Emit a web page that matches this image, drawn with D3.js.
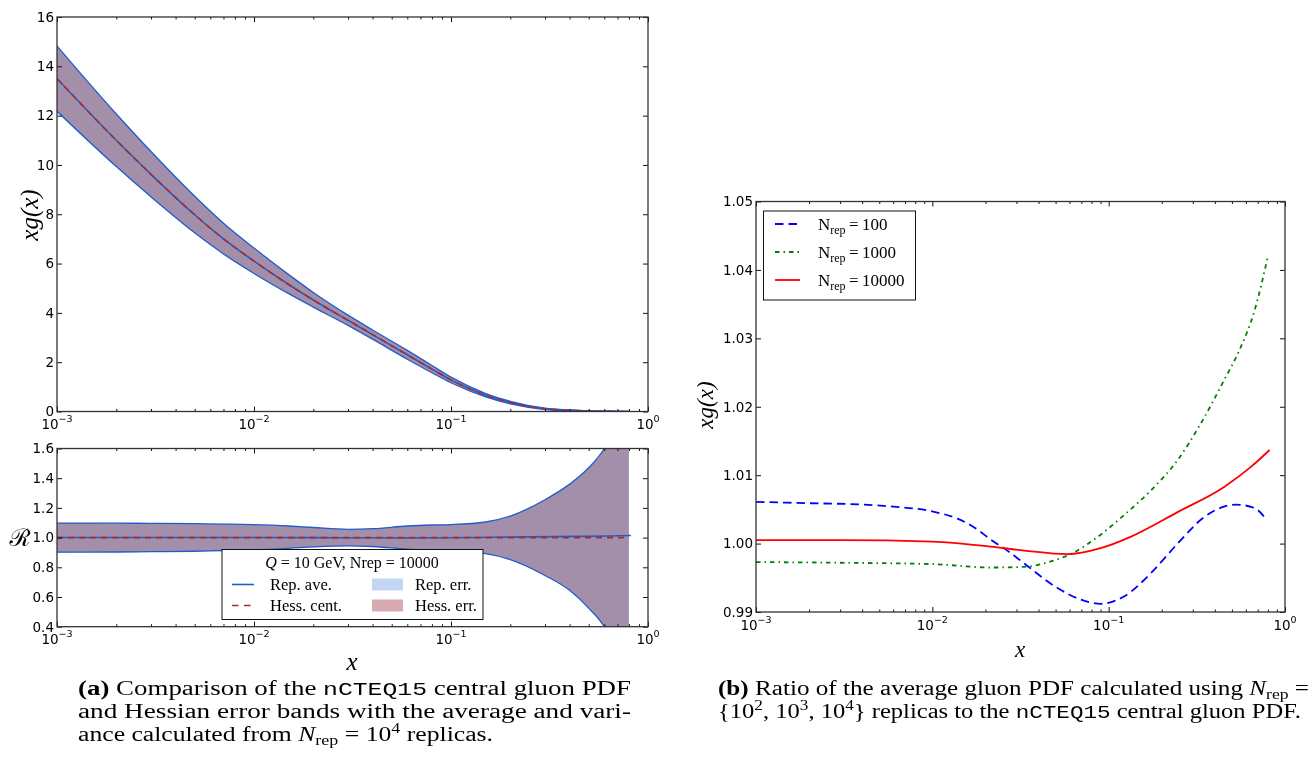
<!DOCTYPE html>
<html>
<head>
<meta charset="utf-8">
<script src="https://cdn.jsdelivr.net/npm/d3@7/dist/d3.min.js"></script>
<style>
html,body{margin:0;padding:0;background:#fff;}
svg{display:block;}
text{white-space:pre;}
</style>
</head>
<body>
<svg id="chart" width="1316" height="760"></svg>
<script>
// ---------------- data ----------------
// (a) gluon PDF xg(x) at Q = 10 GeV
const xGrid = [0.001,0.002,0.003,0.005,0.007,0.01,0.015,0.02,0.03,0.04,0.06,0.08,0.1,0.15,0.2,0.3,0.4,0.5,0.6,0.7,0.8];
const gluonCentral = [13.5,11.0,9.62,7.98,7.0,6.1,5.15,4.52,3.7,3.12,2.3,1.72,1.28,0.66,0.36,0.11,0.045,0.018,0.007,0.003,0.001];
// error band relative to central (ratio R)
const ratioUpper = [1.098,1.097,1.096,1.094,1.091,1.087,1.078,1.068,1.056,1.060,1.078,1.085,1.088,1.105,1.145,1.255,1.36,1.47,1.60,1.78,2.0];
const ratioLower = [0.902,0.903,0.905,0.908,0.913,0.918,0.928,0.937,0.944,0.940,0.922,0.914,0.910,0.892,0.852,0.745,0.645,0.525,0.40,0.22,0.0];
const hessCentRatio = [1,1,1,1,1,1,1,1,1,1,1,1,1,1,1,1,1,1,1,1,1];

// (b) ratio of replica average to central
const x100 = [0.001,0.002,0.004,0.006,0.01,0.014,0.0172,0.0214,0.0272,0.0332,0.0513,0.0697,0.09,0.1227,0.174,0.246,0.349,0.45,0.528,0.671,0.78];
const r100 = [1.0061,1.0059,1.0057,1.0054,1.0047,1.0036,1.0024,1.0006,0.9988,0.9971,0.9935,0.9918,0.9912,0.9923,0.9957,1.0000,1.0039,1.0054,1.0057,1.0052,1.0036];
const x1000 = [0.001,0.003,0.01,0.0214,0.0332,0.047,0.0624,0.09,0.1227,0.174,0.246,0.327,0.454,0.552,0.671,0.80];
const r1000 = [0.9973,0.9972,0.9970,0.9965,0.9966,0.9974,0.9986,1.0013,1.0042,1.0078,1.0122,1.0172,1.0240,1.0283,1.0340,1.0420];
const x10000 = [0.001,0.003,0.01,0.0214,0.0332,0.0585,0.09,0.134,0.246,0.454,0.643,0.818];
const r10000 = [1.0005,1.0005,1.0003,0.99956,0.99898,0.99845,0.99933,1.00102,1.0046,1.00832,1.01124,1.01368];

// ticks
const xMajorTicks = [0.001,0.01,0.1,1];
const xTickExp = ["\u22123","\u22122","\u22121","0"];
const minorMultipliers = [2,3,4,5,6,7,8,9];
const yTicksTop = [0,2,4,6,8,10,12,14,16];
const yTicksBot = [0.4,0.6,0.8,1.0,1.2,1.4,1.6];
const yTicksRight = [0.99,1.00,1.01,1.02,1.03,1.04,1.05];

// legend labels
const legendA = ["Rep. ave.","Hess. cent.","Rep. err.","Hess. err."];
const legendB = ["100","1000","10000"];

// ---------------- drawing ----------------
const svg = d3.select("#chart");
const serif = "'Liberation Serif','Times New Roman',serif";
const sans = "'DejaVu Sans',sans-serif";
const mono = "'Liberation Mono','DejaVu Sans Mono',monospace";

const colRepLine = "#1f5ccc";
const colHessLine = "#b02828";
const colRepFill = "#c2d5f2";
const colHessFill = "#d8abb3";

const defs = svg.append("defs");

function makePanel(id, p, yTicks, yFmt) {
  const x = d3.scaleLog().domain([1e-3, 1]).range([p.l, p.r]);
  const y = d3.scaleLinear().domain(p.yDom).range([p.b, p.t]);
  defs.append("clipPath").attr("id", "clip-" + id)
    .append("rect").attr("x", p.l).attr("y", p.t).attr("width", p.r - p.l).attr("height", p.b - p.t);
  const data = svg.append("g").attr("clip-path", `url(#clip-${id})`);
  const axes = svg.append("g");
  return {x, y, data, axes, p, yTicks, yFmt};
}

function drawAxes(P) {
  const {x, y, axes, p} = P;
  const minor = [];
  xMajorTicks.slice(0, -1).forEach(d => minorMultipliers.forEach(m => minor.push(d * m)));
  const add = (axis, tr) => {
    const g = axes.append("g").attr("transform", tr).call(axis);
    g.select(".domain").remove();
    g.selectAll("line").attr("stroke", "#111").attr("stroke-width", 1);
    return g;
  };
  add(d3.axisBottom(x).tickValues(xMajorTicks).tickSize(-5).tickFormat(""), `translate(0,${p.b})`);
  add(d3.axisBottom(x).tickValues(minor).tickSize(-2.5).tickFormat(""), `translate(0,${p.b})`);
  add(d3.axisTop(x).tickValues(xMajorTicks).tickSize(-5).tickFormat(""), `translate(0,${p.t})`);
  add(d3.axisTop(x).tickValues(minor).tickSize(-2.5).tickFormat(""), `translate(0,${p.t})`);
  const gl = add(d3.axisLeft(y).tickValues(P.yTicks).tickSize(-5).tickPadding(3).tickFormat(P.yFmt), `translate(${p.l},0)`);
  gl.selectAll("text").attr("font-family", sans).attr("font-size", 13.5).attr("fill", "#000");
  add(d3.axisRight(y).tickValues(P.yTicks).tickSize(-5).tickFormat(""), `translate(${p.r},0)`);
  axes.append("rect").attr("x", p.l).attr("y", p.t).attr("width", p.r - p.l).attr("height", p.b - p.t)
    .attr("fill", "none").attr("stroke", "#333").attr("stroke-width", 1.3);
  xMajorTicks.forEach((d, i) => {
    const t = axes.append("text").attr("x", x(d)).attr("y", p.b + 17.5)
      .attr("text-anchor", "middle").attr("font-family", sans).attr("font-size", 13.5).attr("fill", "#000");
    t.append("tspan").text("10");
    t.append("tspan").attr("dy", -7).attr("font-size", 9.5).text(xTickExp[i]);
  });
}

function linePath(P, xs, ys, curve) {
  return d3.line().x(i => P.x(xs[i])).y(i => P.y(ys[i])).curve(curve || d3.curveMonotoneX)(d3.range(xs.length));
}
function areaPath(P, xs, lo, hi) {
  return d3.area().x(i => P.x(xs[i])).y0(i => P.y(lo[i])).y1(i => P.y(hi[i])).curve(d3.curveMonotoneX)(d3.range(xs.length));
}

// ---------- panel (a) top ----------
const PT = makePanel("top", {l: 57, r: 648, t: 17, b: 411.5, yDom: [0, 16]}, yTicksTop, d3.format("d"));
const topUpper = gluonCentral.map((v, i) => v * ratioUpper[i]);
const topLower = gluonCentral.map((v, i) => v * ratioLower[i]);
PT.data.append("path").attr("d", areaPath(PT, xGrid, topLower, topUpper)).attr("fill", colHessFill).style("mix-blend-mode", "multiply");
PT.data.append("path").attr("d", areaPath(PT, xGrid, topLower, topUpper)).attr("fill", colRepFill).style("mix-blend-mode", "multiply");
[topUpper, topLower].forEach(arr =>
  PT.data.append("path").attr("d", linePath(PT, xGrid, arr)).attr("fill", "none").attr("stroke", colRepLine).attr("stroke-width", 1.3));
PT.data.append("path").attr("d", linePath(PT, xGrid, gluonCentral)).attr("fill", "none").attr("stroke", colRepLine).attr("stroke-width", 1.6);
PT.data.append("path").attr("d", linePath(PT, xGrid, gluonCentral)).attr("fill", "none").attr("stroke", colHessLine).attr("stroke-width", 1.6).attr("stroke-dasharray", "6,5");
drawAxes(PT);

// ---------- panel (a) bottom ----------
const PB = makePanel("bot", {l: 57, r: 648, t: 448.5, b: 626.7, yDom: [0.4, 1.6]}, yTicksBot, d3.format(".1f"));
PB.data.append("path").attr("d", areaPath(PB, xGrid, ratioLower, ratioUpper)).attr("fill", colHessFill).style("mix-blend-mode", "multiply");
PB.data.append("path").attr("d", areaPath(PB, xGrid, ratioLower, ratioUpper)).attr("fill", colRepFill).style("mix-blend-mode", "multiply");
[ratioUpper, ratioLower].forEach(arr =>
  PB.data.append("path").attr("d", linePath(PB, xGrid, arr)).attr("fill", "none").attr("stroke", colRepLine).attr("stroke-width", 1.3));
PB.data.append("path").attr("d", linePath(PB, x10000, r10000)).attr("fill", "none").attr("stroke", colRepLine).attr("stroke-width", 1.6);
PB.data.append("path").attr("d", linePath(PB, xGrid, hessCentRatio)).attr("fill", "none").attr("stroke", colHessLine).attr("stroke-width", 1.6).attr("stroke-dasharray", "6,5");
drawAxes(PB);

// ---------- panel (b) ----------
const PR = makePanel("right", {l: 756, r: 1285, t: 201.5, b: 612, yDom: [0.99, 1.05]}, yTicksRight, d3.format(".2f"));
const seriesB = [
  {xs: x100, ys: r100, color: "#0000ff", dash: "8.5,5", w: 1.8},
  {xs: x1000, ys: r1000, color: "#008000", dash: "4.5,4,1.5,4", w: 1.8},
  {xs: x10000, ys: r10000, color: "#ff0000", dash: null, w: 1.8}
];
seriesB.forEach(s => {
  PR.data.append("path").attr("d", linePath(PR, s.xs, s.ys)).attr("fill", "none")
    .attr("stroke", s.color).attr("stroke-width", s.w).attr("stroke-dasharray", s.dash);
});
drawAxes(PR);

// ---------- axis labels ----------
function addText(x, y, txt, size, opts = {}) {
  const t = svg.append("text").attr("x", x).attr("y", y).attr("font-family", opts.family || serif)
    .attr("font-size", size).attr("fill", "#000").attr("text-anchor", opts.anchor || "middle");
  if (opts.italic) t.attr("font-style", "italic");
  if (opts.rotate) t.attr("transform", `rotate(-90,${x},${y})`);
  t.text(txt);
  return t;
}
addText(38, 215, "xg(x)", 25, {italic: true, rotate: true});
addText(20, 546, "\u211B", 24, {family: "'DejaVu Serif','Noto Sans',serif"});
addText(352, 670, "x", 25, {italic: true});
addText(713, 405, "xg(x)", 23, {italic: true, rotate: true});
addText(1020, 657, "x", 23, {italic: true});

// ---------- legend (a) ----------
const la = svg.append("g");
la.append("rect").attr("x", 222).attr("y", 549.5).attr("width", 261).attr("height", 70)
  .attr("fill", "#fff").attr("stroke", "#111").attr("stroke-width", 1);
{
  const t = la.append("text").attr("x", 352).attr("y", 568).attr("text-anchor", "middle")
    .attr("font-family", serif).attr("font-size", 16).attr("fill", "#000");
  t.append("tspan").attr("font-style", "italic").text("Q");
  t.append("tspan").text(" = 10 GeV, Nrep = 10000");
}
la.append("line").attr("x1", 232).attr("x2", 254).attr("y1", 584.5).attr("y2", 584.5).attr("stroke", colRepLine).attr("stroke-width", 1.6);
la.append("line").attr("x1", 232).attr("x2", 254).attr("y1", 605.5).attr("y2", 605.5).attr("stroke", colHessLine).attr("stroke-width", 1.6).attr("stroke-dasharray", "6.5,5.5");
la.append("rect").attr("x", 372).attr("y", 578.5).attr("width", 31).attr("height", 12).attr("fill", colRepFill);
la.append("rect").attr("x", 372).attr("y", 599.5).attr("width", 31).attr("height", 12).attr("fill", colHessFill);
[[270, 590, 0], [270, 611, 1], [415, 590, 2], [415, 611, 3]].forEach(([x, y, k]) =>
  la.append("text").attr("x", x).attr("y", y).attr("font-family", serif).attr("font-size", 16.5).attr("fill", "#000").text(legendA[k]));

// ---------- legend (b) ----------
const lb = svg.append("g");
lb.append("rect").attr("x", 763.5).attr("y", 211).attr("width", 152).attr("height", 89)
  .attr("fill", "#fff").attr("stroke", "#111").attr("stroke-width", 1);
seriesB.forEach((s, i) => {
  const yy = 224 + i * 28;
  lb.append("line").attr("x1", 775).attr("x2", 800).attr("y1", yy).attr("y2", yy)
    .attr("stroke", s.color).attr("stroke-width", s.w).attr("stroke-dasharray", s.dash);
  const t = lb.append("text").attr("x", 818).attr("y", yy + 6).attr("font-family", serif).attr("font-size", 17).attr("fill", "#000");
  t.append("tspan").text("N");
  t.append("tspan").attr("dy", 4).attr("font-size", 12).text("rep");
  t.append("tspan").attr("dy", -4).text("\u2009=\u2009" + legendB[i]);
});

// ---------- captions ----------
function richText(x, y, parts, size, textLength) {
  const t = svg.append("text").attr("x", x).attr("y", y).attr("font-family", serif)
    .attr("font-size", size).attr("fill", "#000");
  let shift = 0;
  parts.forEach(p => {
    const target = p.sup ? -size * 0.38 : p.sub ? size * 0.22 : 0;
    const ts = t.append("tspan").text(p.t);
    if (target !== shift) { ts.attr("dy", target - shift); shift = target; }
    if (p.sup || p.sub) ts.attr("font-size", size * 0.7);
    if (p.b) ts.attr("font-weight", "bold");
    if (p.i) ts.attr("font-style", "italic");
    if (p.m) ts.attr("font-family", mono).attr("font-size", size * 0.92);
  });
  if (textLength) t.attr("textLength", textLength).attr("lengthAdjust", "spacingAndGlyphs");
  return t;
}
const capSize = 20;
richText(78, 695, [{t: "(a)", b: 1}, {t: " Comparison of the "}, {t: "nCTEQ15", m: 1}, {t: " central gluon PDF"}], capSize, 553);
richText(78, 718, [{t: "and Hessian error bands with the average and vari-"}], capSize, 553);
richText(78, 741, [{t: "ance calculated from "}, {t: "N", i: 1}, {t: "rep", sub: 1}, {t: " = 10"}, {t: "4", sup: 1}, {t: " replicas."}], capSize, 415);
richText(718, 695, [{t: "(b)", b: 1}, {t: " Ratio of the average gluon PDF calculated using "}, {t: "N", i: 1}, {t: "rep", sub: 1}, {t: " ="}], capSize, 591);
richText(718, 718, [{t: "{10"}, {t: "2", sup: 1}, {t: ", 10"}, {t: "3", sup: 1}, {t: ", 10"}, {t: "4", sup: 1}, {t: "} replicas to the "}, {t: "nCTEQ15", m: 1}, {t: " central gluon PDF."}], capSize, 583);
</script>
</body>
</html>
